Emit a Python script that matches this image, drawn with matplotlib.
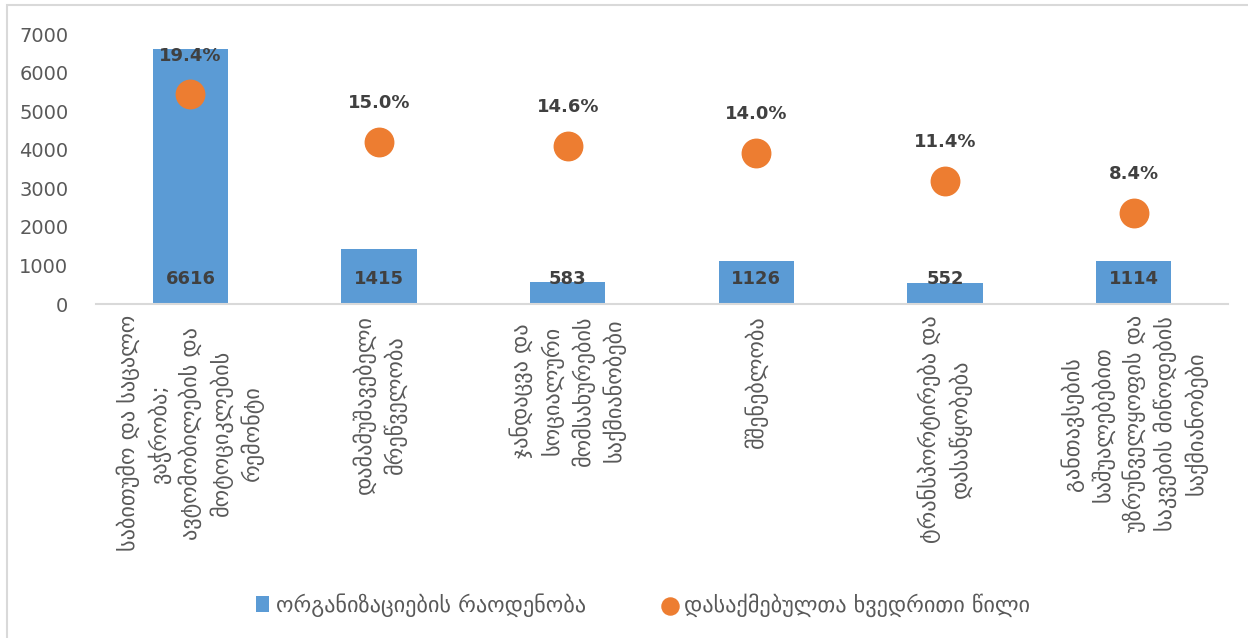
import matplotlib.pyplot as plt
from matplotlib.patches import Rectangle

plt.rcParams['font.family'] = ['DejaVu Sans']

# Sectors (with line breaks as they appear on the axis)
categories = [
    'საბითუმო და საცალო\nვაჭრობა;\nავტომობილების და\nმოტოციკლების\nრემონტი',
    'დამამუშავებელი\nმრეწველობა',
    'ჯანდაცვა და\nსოციალური\nმომსახურების\nსაქმიანობები',
    'მშენებლობა',
    'ტრანსპორტირება და\nდასაწყობება',
    'განთავსების\nსაშუალებებით\nუზრუნველყოფის და\nსაკვების მიწოდების\nსაქმიანობები',
]
org_counts = [6616, 1415, 583, 1126, 552, 1114]
employment_share = [19.4, 15.0, 14.6, 14.0, 11.4, 8.4]

bar_label = 'ორგანიზაციების რაოდენობა'
dot_label = 'დასაქმებულთა ხვედრითი წილი'

blue = '#5B9BD5'
orange = '#ED7D31'
text_gray = '#595959'
label_gray = '#404040'

fig = plt.figure(figsize=(12.48, 6.38), dpi=100)
ax = fig.add_axes([0.077, 0.5235, 0.907, 0.4232])

x = list(range(len(categories)))
bars = ax.bar(x, org_counts, width=0.4, color=blue, label=bar_label, zorder=2)

ax.set_xlim(-0.5, len(categories) - 0.5)
ax.set_ylim(0, 7000)
ax.set_yticks(range(0, 7001, 1000))
ax.tick_params(axis='y', length=0, labelsize=14, labelcolor=text_gray, pad=20)
ax.tick_params(axis='x', length=0, pad=8)
ax.set_xticks(x)
ax.set_xticklabels(categories, rotation=90, fontsize=16, color=text_gray,
                   va='top', ha='center', multialignment='center',
                   linespacing=1.4)

for side in ['top', 'right', 'left']:
    ax.spines[side].set_visible(False)
ax.spines['bottom'].set_color('#D9D9D9')
ax.spines['bottom'].set_linewidth(1.5)

# Counts written near the base of each bar
for xi, v in zip(x, org_counts):
    ax.annotate(str(v), (xi, 0), xytext=(0, 18), textcoords='offset points',
                ha='center', va='center', fontsize=13, fontweight='bold',
                color=label_gray, zorder=4)

# Employment share on a hidden secondary axis (0-25%)
ax2 = ax.twinx()
ax2.set_ylim(0, 25)
ax2.axis('off')
ax2.scatter(x, employment_share, s=420, color=orange, label=dot_label, zorder=3)
for xi, p in zip(x, employment_share):
    ax2.annotate(f'{p:.1f}%', (xi, p), xytext=(0, 28), textcoords='offset points',
                 ha='center', va='center', fontsize=13, fontweight='bold',
                 color=label_gray)

# Legend below the axis labels
h1, l1 = ax.get_legend_handles_labels()
h2, l2 = ax2.get_legend_handles_labels()
leg = fig.legend(h1 + h2, l1 + l2, loc='center', bbox_to_anchor=(0.515, 0.052),
                 ncol=2, frameon=False, fontsize=16, handlelength=0.6,
                 handleheight=0.7, columnspacing=3.5, handletextpad=0.3,
                 markerscale=0.6)
for t in leg.get_texts():
    t.set_color(text_gray)

# Chart border
fig.patches.append(Rectangle((7 / 1248, -0.1), 1.2, 1 - 5 / 638 + 0.1,
                             transform=fig.transFigure, fill=False,
                             edgecolor='#D9D9D9', linewidth=1.5))

fig.savefig('out.png', dpi=100)
